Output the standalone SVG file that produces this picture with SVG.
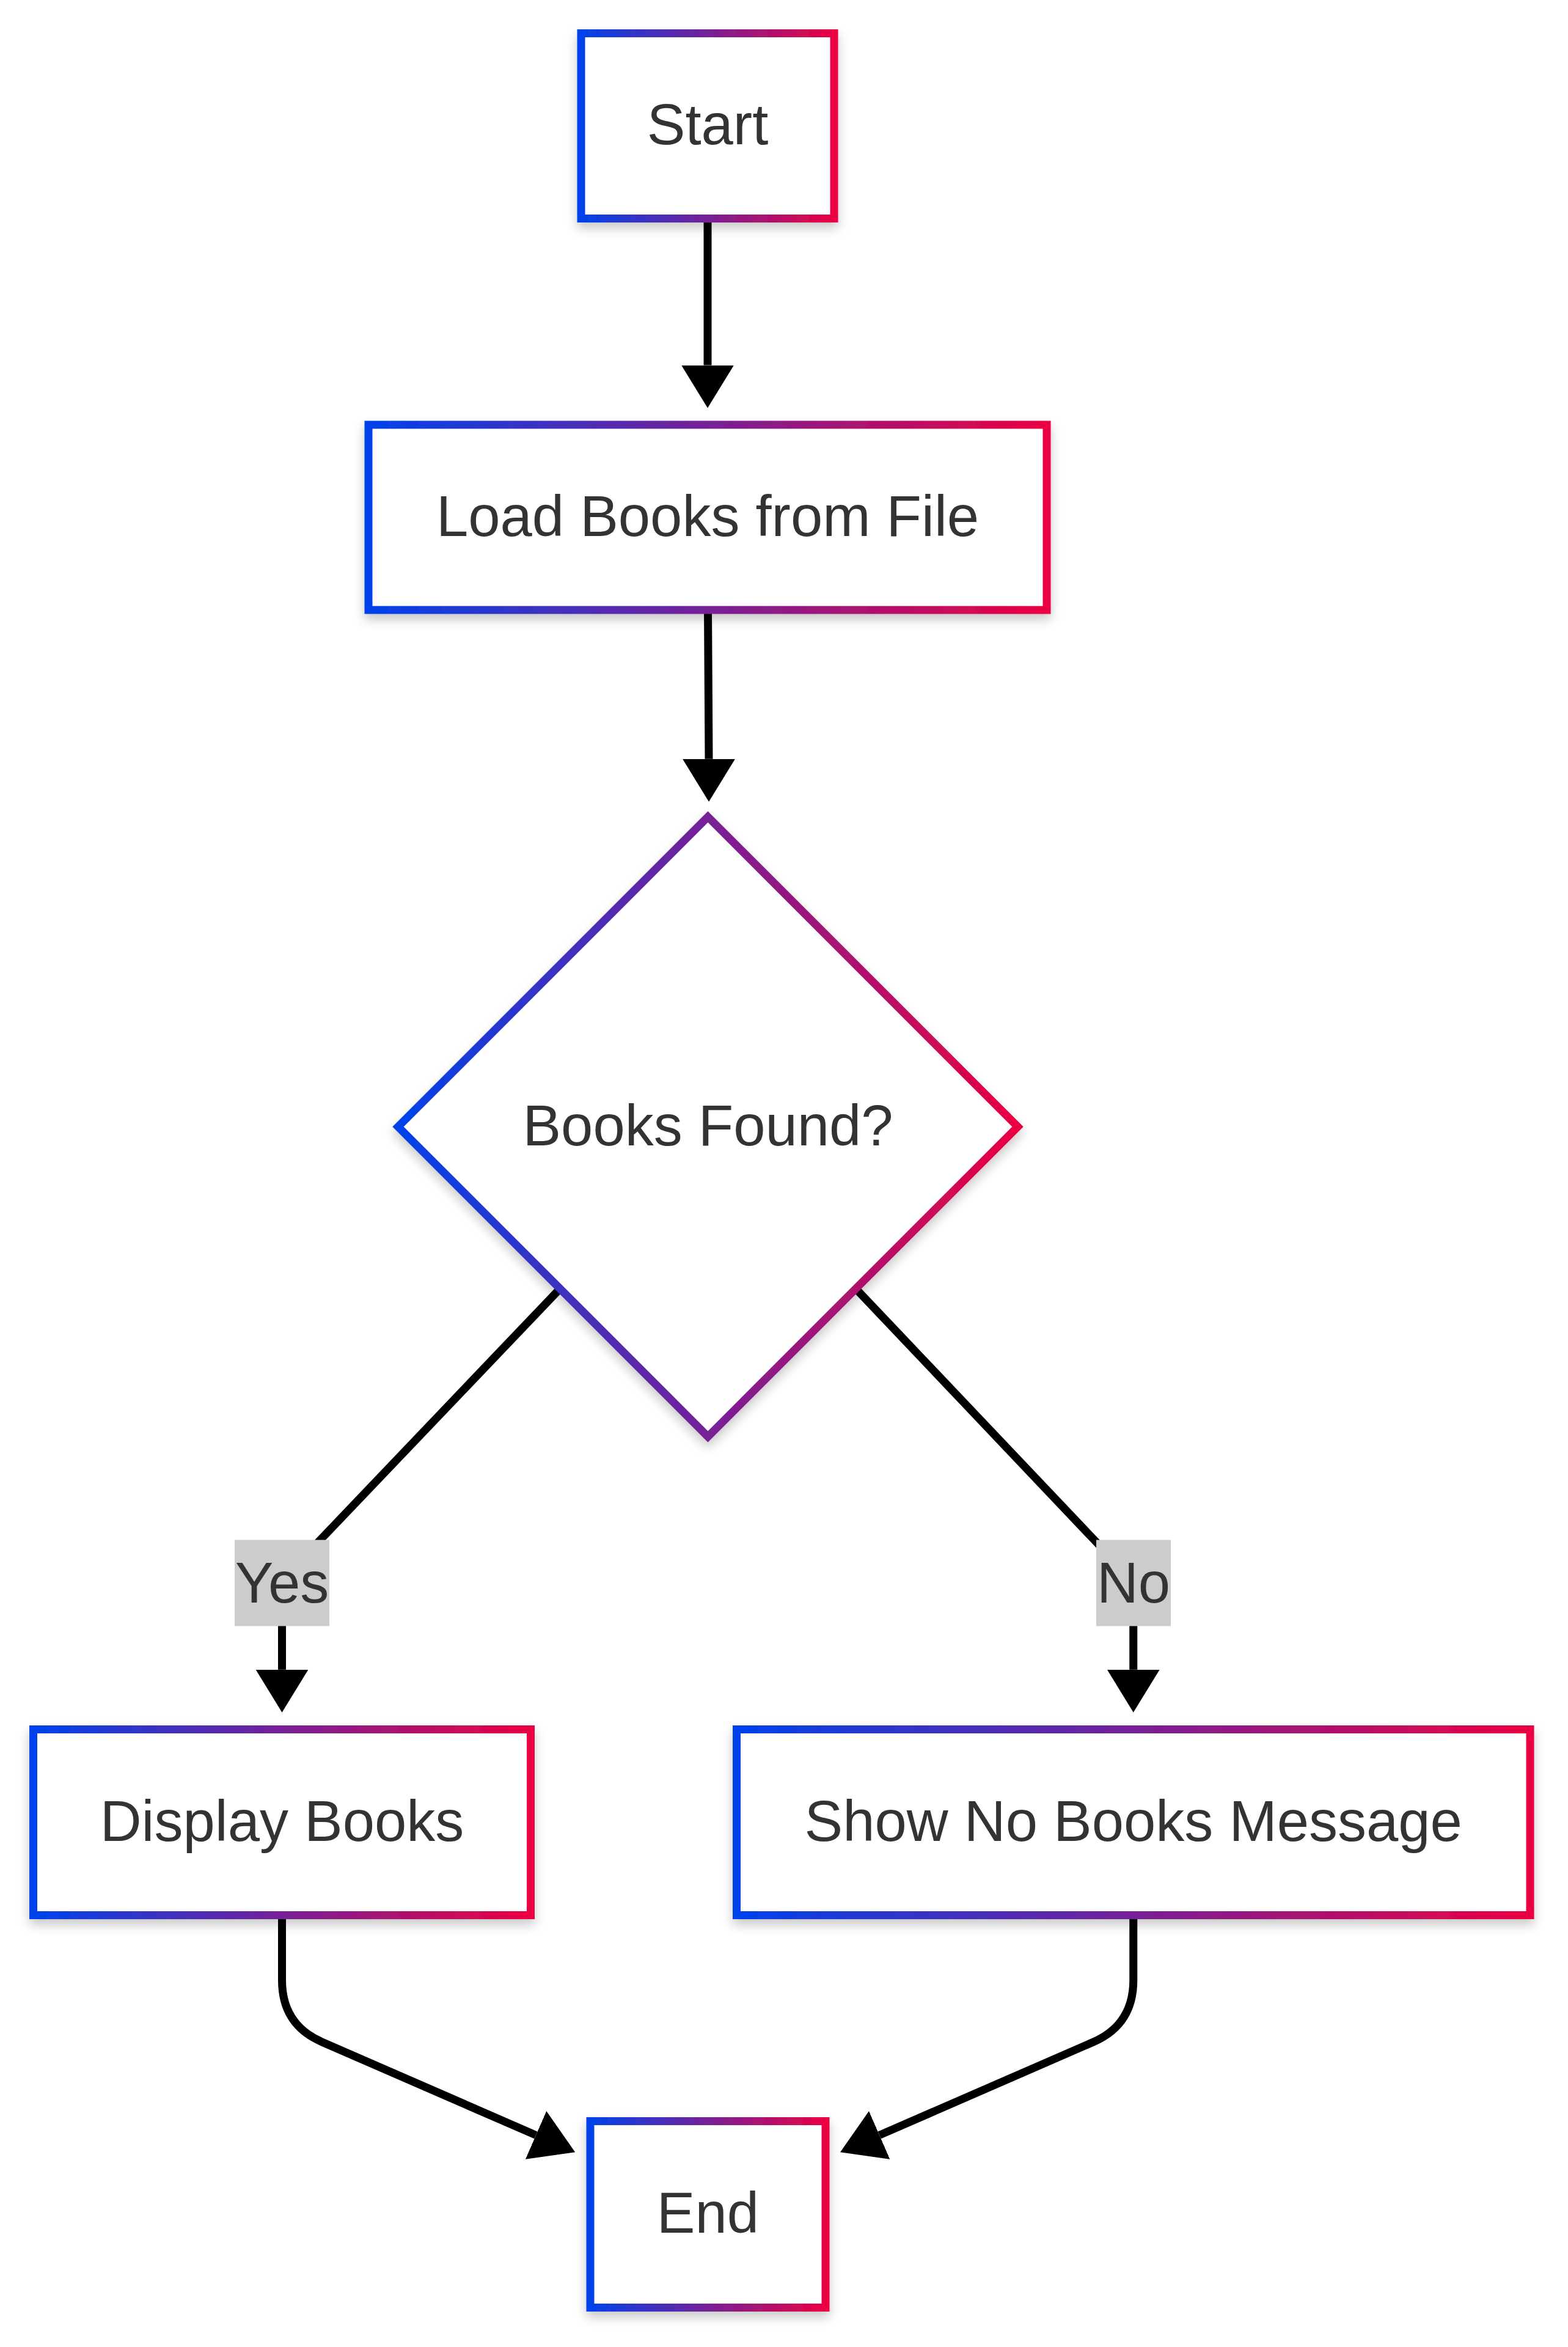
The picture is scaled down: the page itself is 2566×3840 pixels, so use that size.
<svg xmlns="http://www.w3.org/2000/svg" width="2566" height="3840" viewBox="0 0 2566 3840">
  <defs>
    <linearGradient id="grad" x1="0" y1="0" x2="1" y2="0">
      <stop offset="0" stop-color="#0042EB"/>
      <stop offset="1" stop-color="#EB0042"/>
    </linearGradient>
    <filter id="shadow" x="-20%" y="-20%" width="140%" height="140%">
      <feDropShadow dx="0" dy="9" stdDeviation="9" flood-color="#000" flood-opacity="0.22"/>
    </filter>
    <marker id="arrow" markerUnits="userSpaceOnUse" viewBox="0 0 70 86" refX="0" refY="43" markerWidth="70" markerHeight="86" orient="auto">
      <path d="M0,0 L70,43 L0,86 z" fill="#000"/>
    </marker>
    <style>
      .node { fill: #fff; stroke: url(#grad); stroke-width: 13; filter: url(#shadow); }
      .label { font-family: "Liberation Sans", Arial, sans-serif; font-size: 94px; fill: #333; text-anchor: middle; }
      .edge { fill: none; stroke: #000; stroke-width: 13; marker-end: url(#arrow); }
      .lblbg { fill: #ccc; }
    </style>
  </defs>
  <rect x="0" y="0" width="2566" height="3840" fill="#fff"/>

  <g id="connectors">
    <path class="edge" d="M1158 357 L1158 597.5"/>
    <path class="edge" d="M1158.5 998 C1158.5 1100 1160 1150 1160 1241.7"/>
    <path class="edge" d="M915 2110 L503 2541.6 Q461.5 2585 461.5 2645 L461.5 2731.7"/>
    <path class="edge" d="M1402 2110 L1813 2543 Q1854.75 2587 1854.75 2647 L1854.75 2731.7"/>
    <path class="edge" d="M461.5 3134 L461.5 3240 Q461.5 3312.5 527 3341 L877 3493.4"/>
    <path class="edge" d="M1854.75 3134 L1854.75 3240 Q1854.75 3312.5 1789.2 3341 L1439.2 3493.4"/>
  </g>

  <g id="edge-labels">
    <g id="label-yes">
      <rect class="lblbg" x="384" y="2519.5" width="155" height="141"/>
      <text class="label" x="461.5" y="2621.5">Yes</text>
    </g>
    <g id="label-no">
      <rect class="lblbg" x="1794" y="2519.5" width="122" height="141"/>
      <text class="label" x="1855" y="2621.5">No</text>
    </g>
  </g>

  <g id="node-start">
    <rect class="node" x="951" y="54.5" width="414" height="303"/>
    <text class="label" x="1158" y="236">Start</text>
  </g>
  <g id="node-load">
    <rect class="node" x="603" y="695" width="1110" height="303"/>
    <text class="label" x="1158" y="877">Load Books from File</text>
  </g>
  <g id="node-decision">
    <polygon class="node" points="1158.5,1336.5 1665.5,1843.5 1158.5,2350.5 651.5,1843.5"/>
    <text class="label" x="1158.5" y="1874">Books Found?</text>
  </g>
  <g id="node-display">
    <rect class="node" x="54.5" y="2829.5" width="814" height="304"/>
    <text class="label" x="461.5" y="3012">Display Books</text>
  </g>
  <g id="node-nobooks">
    <rect class="node" x="1205.5" y="2829.5" width="1298.5" height="304"/>
    <text class="label" x="1854.75" y="3012">Show No Books Message</text>
  </g>
  <g id="node-end">
    <rect class="node" x="966" y="3470.5" width="385" height="305"/>
    <text class="label" x="1158.5" y="3653">End</text>
  </g>
</svg>
